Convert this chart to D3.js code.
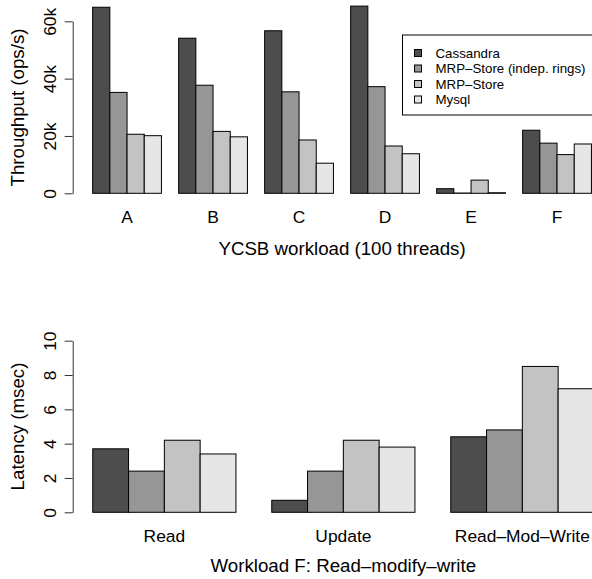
<!DOCTYPE html>
<html>
<head>
<meta charset="utf-8">
<script src="https://cdn.jsdelivr.net/npm/d3@7"></script>
<style>
  body { margin: 0; background: #fff; }
  text { font-family: "Liberation Sans", Arial, Helvetica, sans-serif; fill: #000; }
</style>
</head>
<body>
<script>
// series shared by both panels
var series = ["Cassandra", "MRP\u2013Store (indep. rings)", "MRP\u2013Store", "Mysql"];
var colors = ["#4d4d4d", "#969696", "#c3c3c3", "#e6e6e6"];

// top panel: throughput per YCSB workload
var workloads = ["A", "B", "C", "D", "E", "F"];
var cassandraTput = [64900, 54100, 56700, 65300, 1600, 22000];
var indepTput     = [35200, 37700, 35400, 37200, 100, 17500];
var mrpTput       = [20600, 21600, 18600, 16500, 4600, 13500];
var mysqlTput     = [20100, 19700, 10500, 13800, 200, 17200];
var tputTicks = [0, 20000, 40000, 60000];

// bottom panel: latency for workload F
var ops = ["Read", "Update", "Read\u2013Mod\u2013Write"];
var cassandraLat = [3.7, 0.7, 4.4];
var indepLat     = [2.4, 2.4, 4.8];
var mrpLat       = [4.2, 4.2, 8.5];
var mysqlLat     = [3.4, 3.8, 7.2];
var latTicks = [0, 2, 4, 6, 8, 10];

var width = 592, height = 579;
var fontLab = 18.7, fontAxis = 17.4, fontLegend = 13.3;

var svg = d3.select("body").append("svg")
    .attr("width", width)
    .attr("height", height);

svg.append("rect").attr("width", width).attr("height", height).attr("fill", "#fff");

// draws one barplot panel the way R's barplot(beside=TRUE) lays it out
function panel(opts) {
  var g = svg.append("g");
  var nGroups = opts.cats.length;
  var units = nGroups * 5;               // 1 space + 4 bars per group
  var ext = (units - 1) * 0.04;
  var right = opts.left + (units - 1 + 2 * ext) * opts.unit;
  var xu = d3.scaleLinear()
      .domain([1 - ext, units + ext])
      .range([opts.left, right]);

  var x0 = d3.scaleBand()
      .domain(opts.cats)
      .range([xu(0), xu(units)])
      .paddingInner(0.2)
      .paddingOuter(0.1)
      .align(1);
  var x1 = d3.scaleBand()
      .domain(series)
      .range([0, x0.bandwidth()]);

  var y = d3.scaleLinear()
      .domain(opts.yDomain)
      .range([opts.y0, opts.yTop]);

  var rows = opts.cats.map(function(c, i) {
    return { cat: c, vals: opts.values.map(function(v) { return v[i]; }) };
  });

  g.selectAll(".grp")
      .data(rows)
    .enter().append("g")
      .attr("transform", function(d) { return "translate(" + x0(d.cat) + ",0)"; })
    .selectAll("rect")
      .data(function(d) { return d.vals.map(function(v, k) { return { s: series[k], v: v, k: k }; }); })
    .enter().append("rect")
      .attr("x", function(d) { return x1(d.s); })
      .attr("width", x1.bandwidth())
      .attr("y", function(d) { return y(d.v); })
      .attr("height", function(d) { return y(0) - y(d.v); })
      .attr("fill", function(d) { return colors[d.k]; })
      .attr("stroke", "#000")
      .attr("stroke-width", 1);

  // y axis, R style: line between first and last tick, rotated labels
  var ya = g.append("g")
      .attr("transform", "translate(" + opts.left + ",0)")
      .call(d3.axisLeft(y).tickValues(opts.ticks).tickFormat(opts.fmt)
            .tickSize(8).tickSizeOuter(0));
  ya.select(".domain").attr("stroke", "#333");
  ya.selectAll(".tick line").attr("stroke", "#333");
  ya.selectAll(".tick text")
      .attr("x", null).attr("dy", null)
      .attr("text-anchor", "middle")
      .attr("transform", "translate(-17,0) rotate(-90)")
      .style("font-size", fontAxis + "px");

  // category names under groups
  var xa = g.append("g")
      .attr("transform", "translate(0," + opts.catY + ")")
      .call(d3.axisBottom(x0).tickSize(0).tickPadding(0));
  xa.select(".domain").remove();
  xa.selectAll(".tick text")
      .attr("y", 0).attr("dy", null)
      .style("font-size", fontAxis + "px");

  g.append("text")
      .attr("x", (opts.left + right) / 2)
      .attr("y", opts.titleY)
      .attr("text-anchor", "middle")
      .style("font-size", fontLab + "px")
      .text(opts.xTitle);

  g.append("text")
      .attr("transform", "translate(24," + opts.yTitleC + ") rotate(-90)")
      .attr("text-anchor", "middle")
      .style("font-size", fontLab + "px")
      .text(opts.yTitle);
}

panel({
  cats: workloads,
  values: [cassandraTput, indepTput, mrpTput, mysqlTput],
  left: 72.7, unit: 17.2,
  yDomain: [0, 60000], y0: 193.3, yTop: 21.3,
  ticks: tputTicks,
  fmt: function(d) { return d === 0 ? "0" : (d / 1000) + "k"; },
  catY: 222.5, titleY: 255, xTitle: "YCSB workload (100 threads)",
  yTitle: "Throughput (ops/s)", yTitleC: 107.5
});

panel({
  cats: ops,
  values: [cassandraLat, indepLat, mrpLat, mysqlLat],
  left: 72.7, unit: 35.8,
  yDomain: [0, 10], y0: 512.3, yTop: 340.7,
  ticks: latTicks,
  fmt: function(d) { return String(d); },
  catY: 541.7, titleY: 571.7, xTitle: "Workload F: Read\u2013modify\u2013write",
  yTitle: "Latency (msec)", yTitleC: 426.5
});

// legend
var leg = svg.append("g");
leg.append("rect")
    .attr("x", 402.5).attr("y", 35)
    .attr("width", 200).attr("height", 80)
    .attr("fill", "#fff").attr("stroke", "#000").attr("stroke-width", 1);
var li = leg.selectAll(".item")
    .data(series)
  .enter().append("g")
    .attr("transform", function(d, i) { return "translate(0," + (53 + i * 15.5) + ")"; });
li.append("rect")
    .attr("x", 414.5).attr("y", -3.5)
    .attr("width", 7).attr("height", 7)
    .attr("fill", function(d, i) { return colors[i]; })
    .attr("stroke", "#000").attr("stroke-width", 1);
li.append("text")
    .attr("x", 435.5).attr("y", 4.8)
    .style("font-size", fontLegend + "px")
    .text(function(d) { return d; });
</script>
</body>
</html>
